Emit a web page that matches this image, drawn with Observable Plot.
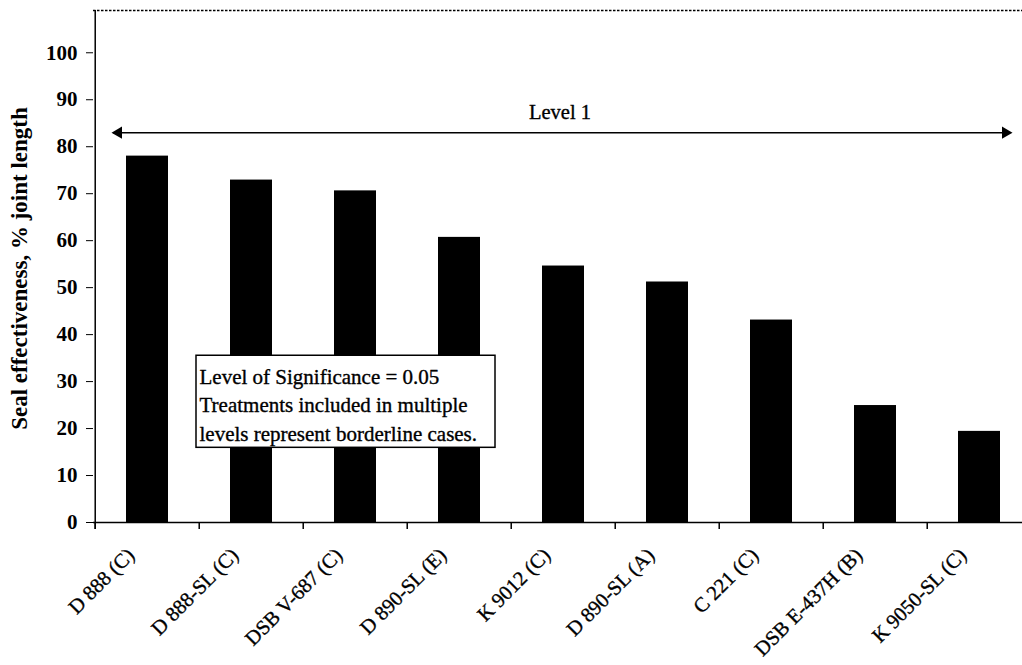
<!DOCTYPE html>
<html>
<head>
<meta charset="utf-8">
<script src="https://cdn.jsdelivr.net/npm/d3@7"></script>
<script src="https://cdn.jsdelivr.net/npm/@observablehq/plot@0.6"></script>
<style>
  html, body { margin: 0; padding: 0; background: white; overflow: hidden; }
</style>
</head>
<body>
<div id="chart"></div>
<script>
const categories = ["D 888 (C)", "D 888-SL (C)", "DSB V-687 (C)", "D 890-SL (E)", "K 9012 (C)", "D 890-SL (A)", "C 221 (C)", "DSB E-437H (B)", "K 9050-SL (C)"];
const values = [78.0, 72.9, 70.6, 60.7, 54.6, 51.2, 43.1, 24.9, 19.4];
const yTicks = [0, 10, 20, 30, 40, 50, 60, 70, 80, 90, 100];
const yLabel = "Seal effectiveness, % joint length";
const levelLabel = "Level 1";
const levelValue = 83;
const levelTextValue = 87.2;
const noteLines = ["Level of Significance = 0.05", "Treatments included in multiple", "levels represent borderline cases."];
const noteBox = [35.5, 15.9];
const noteTextValue = 25.4;
const yMax = 109;

const data = categories.map((c, i) => ({c, v: values[i]}));
const halfStep = 52.28;

const chart = Plot.plot({
  width: 1022,
  height: 665,
  marginTop: 10,
  marginBottom: 143,
  marginLeft: 93,
  marginRight: 0,
  style: {fontFamily: "'Liberation Serif', 'Times New Roman', serif", fontSize: "21px", fontWeight: "bold", color: "black", background: "white"},
  x: {domain: categories, range: [93, 1034], paddingInner: 0.5935, paddingOuter: 0.297, align: 0.5, axis: null},
  y: {domain: [0, yMax], ticks: yTicks, tickSize: 7, tickPadding: 9, label: null},
  marks: [
    Plot.barY(data, {x: "c", y: "v", fill: "black"}),
    Plot.ruleY([0], {stroke: "black", strokeWidth: 1.5}),
    Plot.ruleY([yMax], {stroke: "black", strokeWidth: 1.6, strokeDasharray: "2.5,1.5"}),
    Plot.ruleX([categories[0]], {x: d => d, dx: -halfStep, y1: -1.5, y2: yMax, stroke: "black", strokeWidth: 1.5}),
    Plot.ruleX(categories, {x: d => d, dx: -halfStep, y1: 0, y2: -1.5, stroke: "black", strokeWidth: 1.5}),
    Plot.text(categories, {x: d => d, frameAnchor: "bottom", text: d => d, rotate: -45, textAnchor: "end", dx: -12, dy: 34, fontWeight: "normal", fontSize: 20.5, fill: "black", stroke: "black", strokeWidth: 0.35}),
    Plot.text([yLabel], {frameAnchor: "left", text: d => d, rotate: -90, textAnchor: "middle", dx: -74, dy: 2, fontWeight: "bold", fontSize: 23, fill: "black"}),
    Plot.ruleY([levelValue], {insetLeft: 20, insetRight: 12, stroke: "black", strokeWidth: 1.5}),
    Plot.dot([categories[0]], {x: d => d, y: () => levelValue, dx: -29, symbol: "triangle", rotate: -90, r: 4.5, fill: "black", stroke: "none"}),
    Plot.dot([categories[categories.length - 1]], {x: d => d, y: () => levelValue, dx: 26, symbol: "triangle", rotate: 90, r: 4.5, fill: "black", stroke: "none"}),
    Plot.text([levelLabel], {y: () => levelTextValue, dx: 2, text: d => d, fontWeight: "normal", fontSize: 20.5, fill: "black", stroke: "black", strokeWidth: 0.35}),
    Plot.rect([noteBox], {y1: d => d[0], y2: d => d[1], insetLeft: 103, insetRight: 527, fill: "white", stroke: "black", strokeWidth: 1.5}),
    Plot.text([noteLines.join("\n")], {y: () => noteTextValue, frameAnchor: "left", dx: 106, text: d => d, textAnchor: "start", lineHeight: 1.36, fontWeight: "normal", fontSize: 21, fill: "black", stroke: "black", strokeWidth: 0.35})
  ]
});
document.getElementById("chart").append(chart);
</script>
</body>
</html>
